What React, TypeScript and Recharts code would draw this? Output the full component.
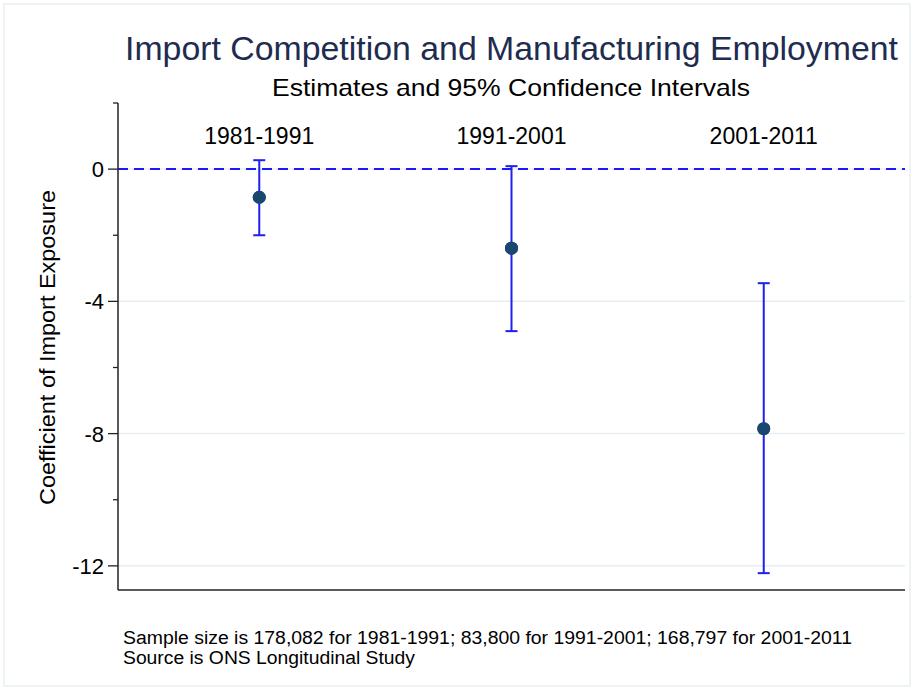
import React from 'react';
import {
  ComposedChart,
  Scatter,
  ErrorBar,
  XAxis,
  YAxis,
  CartesianGrid,
  ReferenceLine,
  ReferenceDot,
} from 'recharts';

// values
const periods = ['1981-1991', '1991-2001', '2001-2011'];
const periodX = [1, 2, 3];
const estimates = [-0.85, -2.39, -7.85];
const ciLow = [-2.0, -4.9, -12.22];
const ciHigh = [0.27, 0.09, -3.45];
const yTicks = [-12, -10, -8, -6, -4, -2, 0, 2];
const yMajorTicks = [-12, -8, -4, 0];
const periodLabelY = 1;

const data = periods.map((p, i) => ({
  period: p,
  x: periodX[i],
  y: estimates[i],
  err: [estimates[i] - ciLow[i], ciHigh[i] - estimates[i]],
}));

const FONT = '"Liberation Sans", Arial, sans-serif';
const AXIS = '#222';
const TICK_SIZE = 10;
const TICK_MARGIN = 4;

const YTick = (props: any) => {
  const { x, y, payload } = props;
  const major = yMajorTicks.includes(payload.value);
  const end = x + TICK_MARGIN + TICK_SIZE;
  const len = major ? 10 : 5;
  return (
    <g>
      <line x1={end - len} y1={y} x2={end} y2={y} stroke={AXIS} strokeWidth={1.3} />
      {major && (
        <text x={x} y={y} dy="0.36em" textAnchor="end" fontSize={22} fill="#000" fontFamily={FONT}>
          {payload.value}
        </text>
      )}
    </g>
  );
};

const Dot = (props: any) => <circle cx={props.cx} cy={props.cy} r={6.5} fill="#1a476f" />;

export default function App() {
  return (
    <div style={{ position: 'absolute', left: 0, top: 0, width: 914, height: 690, background: '#fff', fontFamily: FONT }}>
      <ComposedChart
        width={914}
        height={690}
        data={data}
        margin={{ top: 103, right: 9, bottom: 70, left: 38 }}
      >
        <CartesianGrid vertical={false} horizontalValues={yMajorTicks} stroke="#e6eef3" strokeWidth={1.5} />
        <XAxis
          type="number"
          dataKey="x"
          domain={[0.44, 3.56]}
          tick={false}
          tickLine={false}
          height={30}
          stroke={AXIS}
          strokeWidth={1.5}
        />
        <YAxis
          type="number"
          dataKey="y"
          domain={[-12.73, 2]}
          ticks={yTicks}
          interval={0}
          width={80}
          tickLine={false}
          tickSize={TICK_SIZE}
          tickMargin={TICK_MARGIN}
          tick={<YTick />}
          stroke={AXIS}
          strokeWidth={1.5}
          allowDataOverflow
        />
        <ReferenceLine y={0} stroke="#1a1aff" strokeWidth={2} strokeDasharray="10 6" />
        {periods.map((p, i) => (
          <ReferenceDot
            key={p}
            x={periodX[i]}
            y={periodLabelY}
            r={0}
            stroke="none"
            label={{ value: p, position: 'center', fill: '#000', fontSize: 23, fontFamily: FONT }}
          />
        ))}
        <Scatter dataKey="y" isAnimationActive={false} shape={Dot}>
          <ErrorBar dataKey="err" direction="y" width={6} stroke="#1f1ff2" strokeWidth={2} />
        </Scatter>
        <Scatter dataKey="y" isAnimationActive={false} shape={Dot} />
      </ComposedChart>

      <svg width={914} height={690} style={{ position: 'absolute', left: 0, top: 0, pointerEvents: 'none' }}>
        <rect x={4} y={4} width={906} height={682} fill="none" stroke="#e8efef" strokeWidth={1.5} />
        <text x={125} y={60} textLength={773} lengthAdjust="spacingAndGlyphs" fontSize={33} fill="#1e2c50" fontFamily={FONT}>
          Import Competition and Manufacturing Employment
        </text>
        <text x={272} y={96} textLength={478} lengthAdjust="spacingAndGlyphs" fontSize={24} fill="#000" fontFamily={FONT}>
          Estimates and 95% Confidence Intervals
        </text>
        <text
          x={0}
          y={0}
          transform="translate(55,505) rotate(-90)"
          textLength={315}
          lengthAdjust="spacingAndGlyphs"
          fontSize={22}
          fill="#000"
          fontFamily={FONT}
        >
          Coefficient of Import Exposure
        </text>
        <text x={123} y={644} textLength={729} lengthAdjust="spacingAndGlyphs" fontSize={18} fill="#000" fontFamily={FONT}>
          Sample size is 178,082 for 1981-1991; 83,800 for 1991-2001; 168,797 for 2001-2011
        </text>
        <text x={123} y={664} textLength={292} lengthAdjust="spacingAndGlyphs" fontSize={18} fill="#000" fontFamily={FONT}>
          Source is ONS Longitudinal Study
        </text>
      </svg>
    </div>
  );
}
